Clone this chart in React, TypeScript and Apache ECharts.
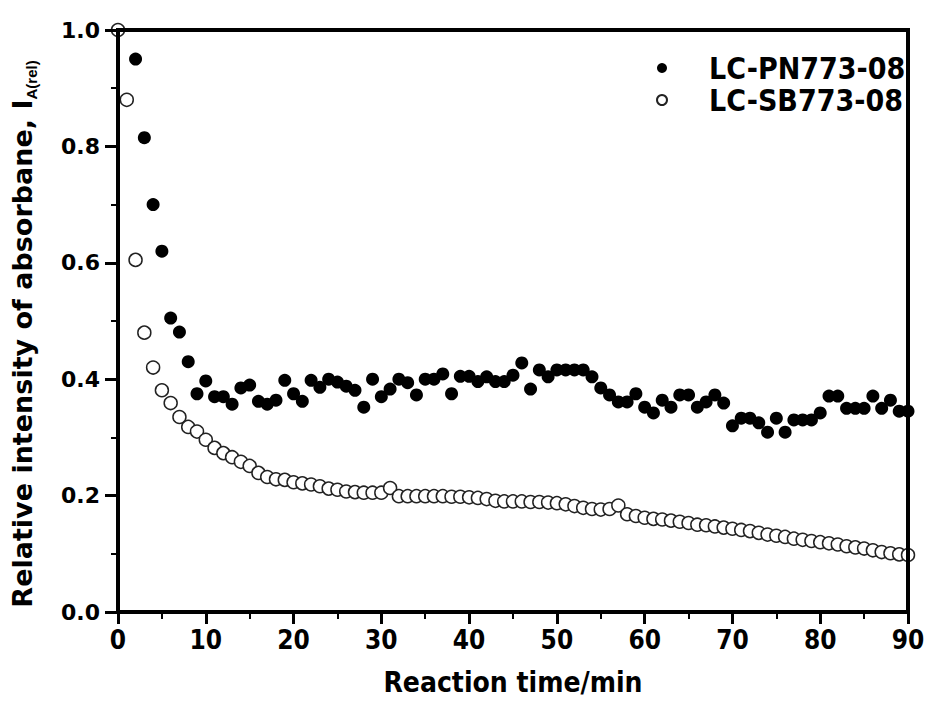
import React, { useEffect, useRef } from "react";
import * as echarts from "echarts";

const xTicks = [0, 10, 20, 30, 40, 50, 60, 70, 80, 90];
const yTicks = [0.0, 0.2, 0.4, 0.6, 0.8, 1.0];

const pnName = "LC-PN773-08";
const sbName = "LC-SB773-08";

const pnTime = [
  0, 2, 3, 4, 5, 6, 7, 8, 9, 10,
  11, 12, 13, 14, 15, 16, 17, 18, 19, 20,
  21, 22, 23, 24, 25, 26, 27, 28, 29, 30,
  31, 32, 33, 34, 35, 36, 37, 38, 39, 40,
  41, 42, 43, 44, 45, 46, 47, 48, 49, 50,
  51, 52, 53, 54, 55, 56, 57, 58, 59, 60,
  61, 62, 63, 64, 65, 66, 67, 68, 69, 70,
  71, 72, 73, 74, 75, 76, 77, 78, 79, 80,
  81, 82, 83, 84, 85, 86, 87, 88, 89, 90,
];
const pnValue = [
  1.0, 0.95, 0.815, 0.70, 0.62, 0.505, 0.481, 0.43, 0.375, 0.397,
  0.37, 0.37, 0.357, 0.385, 0.39, 0.362, 0.357, 0.364, 0.398, 0.375,
  0.362, 0.398, 0.386, 0.40, 0.395, 0.388, 0.381, 0.352, 0.40, 0.37,
  0.383, 0.40, 0.394, 0.373, 0.40, 0.40, 0.409, 0.375, 0.405, 0.405,
  0.396, 0.404, 0.396, 0.396, 0.407, 0.428, 0.383, 0.416, 0.404, 0.416,
  0.416, 0.416, 0.416, 0.404, 0.385, 0.373, 0.361, 0.361, 0.375, 0.352,
  0.342, 0.364, 0.352, 0.373, 0.373, 0.352, 0.361, 0.373, 0.359, 0.32,
  0.333, 0.333, 0.325, 0.309, 0.333, 0.309, 0.33, 0.33, 0.33, 0.342,
  0.371, 0.371, 0.35, 0.35, 0.35, 0.371, 0.35, 0.364, 0.345, 0.345,
];

const sbTime = [
  0, 1, 2, 3, 4, 5, 6, 7, 8, 9, 10,
  11, 12, 13, 14, 15, 16, 17, 18, 19, 20,
  21, 22, 23, 24, 25, 26, 27, 28, 29, 30,
  31, 32, 33, 34, 35, 36, 37, 38, 39, 40,
  41, 42, 43, 44, 45, 46, 47, 48, 49, 50,
  51, 52, 53, 54, 55, 56, 57, 58, 59, 60,
  61, 62, 63, 64, 65, 66, 67, 68, 69, 70,
  71, 72, 73, 74, 75, 76, 77, 78, 79, 80,
  81, 82, 83, 84, 85, 86, 87, 88, 89, 90,
];
const sbValue = [
  1.0, 0.88, 0.605, 0.48, 0.42, 0.381, 0.359, 0.335, 0.318, 0.31, 0.296,
  0.282, 0.273, 0.266, 0.258, 0.251, 0.239, 0.232, 0.228, 0.227, 0.223,
  0.221, 0.219, 0.216, 0.212, 0.21, 0.207, 0.206, 0.205, 0.205, 0.205,
  0.213, 0.199, 0.199, 0.199, 0.199, 0.199, 0.199, 0.198, 0.198, 0.197,
  0.196, 0.194, 0.191, 0.19, 0.19, 0.19, 0.189, 0.189, 0.188, 0.187,
  0.185, 0.182, 0.179, 0.177, 0.176, 0.177, 0.183, 0.168, 0.165, 0.162,
  0.16, 0.159, 0.157, 0.155, 0.153, 0.15, 0.149, 0.147, 0.145, 0.143,
  0.141, 0.139, 0.136, 0.133, 0.131, 0.129, 0.126, 0.124, 0.122, 0.12,
  0.118, 0.116, 0.113, 0.111, 0.109, 0.106, 0.103, 0.101, 0.099, 0.098,
];

const narrow = "'Liberation Sans Narrow', 'DejaVu Sans Condensed', 'Arial Narrow', 'DejaVu Sans', sans-serif";
const verdana = "'DejaVu Sans', Verdana, sans-serif";

export default function App() {
  const ref = useRef<HTMLDivElement>(null);

  useEffect(() => {
    if (!ref.current) return;
    const chart = echarts.init(ref.current, undefined, { renderer: "svg" });

    const axisLine = { show: true, onZero: false, lineStyle: { color: "#000", width: 4, cap: "square" } };

    const option: any = {
      animation: false,
      backgroundColor: "#fff",
      grid: { left: 118, right: 22, top: 30, bottom: 106, containLabel: false },
      legend: {
        orient: "vertical",
        left: 656,
        top: 53,
        padding: 0,
        itemWidth: 84,
        itemHeight: 10,
        itemGap: 2,
        selectedMode: false,
        textStyle: {
          fontFamily: narrow,
          fontWeight: "bold",
          fontSize: 30,
          color: "#000",
          lineHeight: 30,
        },
        data: [pnName, sbName],
      },
      xAxis: [
        {
          type: "value",
          position: "bottom",
          min: 0,
          max: 90,
          interval: 10,
          z: 10,
          axisLine,
          axisTick: { show: true, inside: false, length: 12, lineStyle: { color: "#000", width: 3 } },
          minorTick: { show: true, splitNumber: 2, length: 7, lineStyle: { color: "#000", width: 2 } },
          splitLine: { show: false },
          minorSplitLine: { show: false },
          axisLabel: {
            margin: 15,
            color: "#000",
            fontFamily: narrow,
            fontWeight: "bold",
            fontSize: 26,
            formatter: (v: number) => (xTicks.includes(v) ? String(v) : ""),
          },
          name: "Reaction time/min",
          nameLocation: "middle",
          nameGap: 56,
          nameTextStyle: { fontFamily: narrow, fontWeight: "bold", fontSize: 28, color: "#000" },
        },
        {
          type: "value",
          position: "top",
          min: 0,
          max: 90,
          interval: 10,
          z: 10,
          axisLine,
          axisTick: { show: false },
          axisLabel: { show: false },
          splitLine: { show: false },
        },
      ],
      yAxis: [
        {
          type: "value",
          position: "left",
          min: 0,
          max: 1,
          interval: 0.2,
          z: 10,
          axisLine,
          axisTick: { show: true, inside: false, length: 13, lineStyle: { color: "#000", width: 3 } },
          minorTick: { show: true, splitNumber: 2, length: 7, lineStyle: { color: "#000", width: 2 } },
          splitLine: { show: false },
          minorSplitLine: { show: false },
          axisLabel: {
            margin: 18,
            color: "#000",
            fontFamily: verdana,
            fontWeight: "bold",
            fontSize: 22,
            formatter: (v: number) => {
              const t = yTicks.find((y) => Math.abs(y - v) < 1e-6);
              return t === undefined ? "" : t.toFixed(1);
            },
          },
          name: "{a|Relative intensity of absorbane, }{b|I}{s|A(rel)}",
          nameLocation: "middle",
          nameRotate: 90,
          nameGap: 79,
          nameTextStyle: {
            padding: [0, 26, 0, 0],
            rich: {
              a: {
                fontFamily: verdana,
                fontWeight: "bold",
                fontSize: 27,
                color: "#000",
                lineHeight: 34,
              },
              b: {
                fontFamily: verdana,
                fontWeight: "bold",
                fontSize: 27,
                color: "#000",
                lineHeight: 34,
              },
              s: {
                fontFamily: "'Liberation Sans', Arial, sans-serif",
                fontWeight: "bold",
                fontSize: 15,
                color: "#000",
                lineHeight: 16,
                verticalAlign: "bottom",
              },
            },
          },
        },
        {
          type: "value",
          position: "right",
          min: 0,
          max: 1,
          interval: 0.2,
          z: 10,
          axisLine,
          axisTick: { show: false },
          axisLabel: { show: false },
          splitLine: { show: false },
        },
      ],
      series: [
        {
          name: pnName,
          type: "scatter",
          xAxisIndex: 0,
          yAxisIndex: 0,
          symbol: "circle",
          symbolSize: 13,
          clip: false,
          itemStyle: { color: "#000", opacity: 1 },
          data: pnTime.map((t, i) => [t, pnValue[i]]),
        },
        {
          name: sbName,
          type: "scatter",
          xAxisIndex: 0,
          yAxisIndex: 0,
          symbol: "circle",
          symbolSize: 13,
          clip: false,
          itemStyle: { color: "#fff", borderColor: "#222", borderWidth: 1.5, opacity: 1 },
          data: sbTime.map((t, i) => [t, sbValue[i]]),
        },
      ],
    };

    chart.setOption(option);
    return () => chart.dispose();
  }, []);

  return <div ref={ref} style={{ width: 930, height: 718, position: "absolute", left: 0, top: 0 }} />;
}
